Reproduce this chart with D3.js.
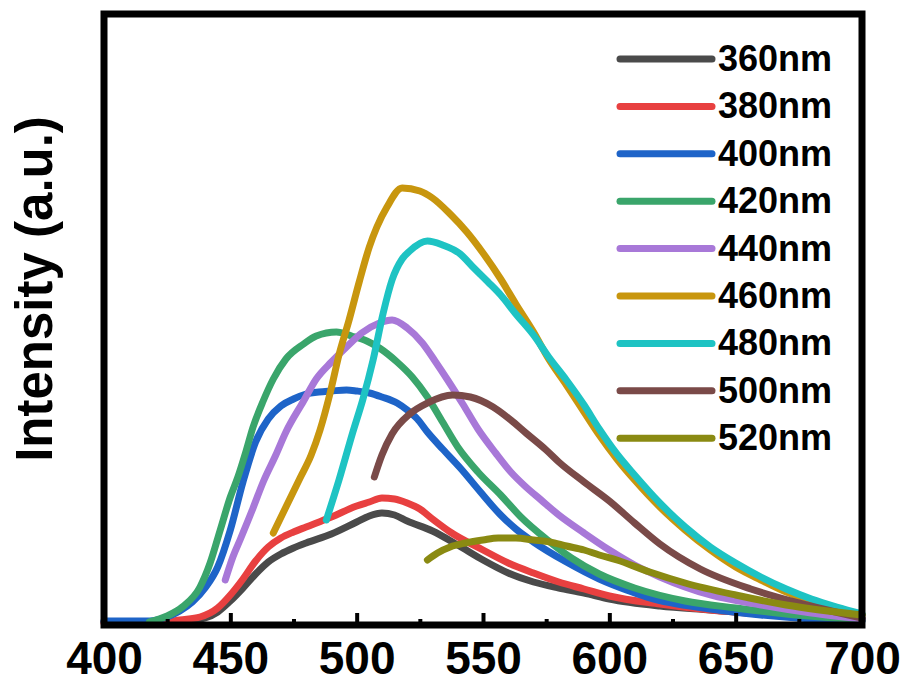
<!DOCTYPE html>
<html>
<head>
<meta charset="utf-8">
<script src="https://cdn.jsdelivr.net/npm/d3@7"></script>
<style>
  body { margin: 0; background: #fff; }
  text { font-family: "Liberation Sans", Arial, sans-serif; font-weight: bold; }
</style>
</head>
<body>
<div id="chart"></div>
<script>
// excitation wavelengths + colours
const seriesNames = ["360nm", "380nm", "400nm", "420nm", "440nm", "460nm", "480nm", "500nm", "520nm"];
const seriesColors = ["#4a4a4a", "#e84040", "#1e64c8", "#3aa56b", "#a878d8", "#c8960e", "#1ec3c3", "#7a4a48", "#8a8a12"];

// emission spectra: [wavelength nm, intensity a.u.]
const ex360 = [[400,3],[420,3],[430,3],[440,7],[445,13],[450,24],[455,37],[460,51],[465,63],[470,71],[475,77],[480,82],[490,91],[500,103],[505,109],[510,112],[515,110],[520,104],[530,94],[540,80],[550,65],[560,52],[570,43],[580,37],[590,32],[600,26],[620,19],[640,15],[660,11],[680,8],[700,6]];
const ex380 = [[400,2],[420,2],[425,3],[430,5],[438,8],[445,17],[450,30],[455,46],[460,64],[465,78],[470,87],[475,93],[480,98],[490,108],[500,119],[505,123],[510,127],[515,126],[520,122],[525,116],[530,106],[537,93],[550,75],[560,62],[570,52],[580,43],[590,36],[600,29],[620,21],[640,15],[660,11],[680,8],[700,5]];
const ex400 = [[400,4],[410,4],[418,4],[425,8],[430,14],[435,23],[440,37],[445,58],[450,95],[455,143],[460,183],[465,206],[470,219],[475,226],[480,231],[485,233],[490,234],[496,235],[500,234],[505,232],[510,228],[516,222],[520,215],[524,206],[528,193],[534,176],[541,157],[549,133],[557,110],[563,96],[570,83],[583,63],[596,46],[609,33],[616,27],[640,16],[660,10],[680,6],[700,4]];
const ex420 = [[418,3],[425,9],[431,18],[438,38],[442,62],[446,95],[450,128],[453,148],[456,172],[459,198],[463,224],[467,246],[472,266],[479,281],[484,289],[492,293],[498,289],[504,284],[509,277],[516,263],[522,248],[528,228],[534,203],[540,178],[548,153],[557,130],[565,108],[575,86],[585,67],[596,51],[610,37],[630,24],[650,17],[670,11],[700,5]];
const ex440 = [[448,45],[451,68],[454,86],[459,117],[463,143],[468,170],[472,193],[479,224],[484,246],[490,263],[496,278],[502,292],[509,302],[514,305],[520,297],[526,282],[531,264],[536,245],[542,221],[548,196],[555,172],[561,153],[567,138],[573,125],[580,110],[590,92],[600,75],[610,60],[620,48],[640,30],[660,20],[680,12],[700,6]];
const ex460 = [[467,92],[472,118],[477.6,147],[482,170],[485.5,195],[489.5,232],[493,270],[497,305],[501,343],[505,378],[508,398],[512,418],[518,437],[525,434],[530,427],[537,411],[543.6,393],[550,372],[557,346],[563,321],[570,293],[576,266],[583,240],[590,213],[596,190],[603,166],[610,145],[620,118],[630,95],[640,75],[650,58],[660,45],[670,33],[680,24],[690,16],[700,10]];
const ex480 = [[488,105],[493,145],[498.5,193],[502.5,226],[506.5,265],[510.5,312],[514,345],[518,366],[521,374],[528,384],[534,380],[541,371],[546,358],[552,343],[557,330],[563,311],[570,290],[576,268],[583,245],[590,220],[596,196],[603,171],[610,150],[620,122],[630,98],[640,78],[650,62],[660,48],[670,36],[680,26],[690,18],[700,11]];
const ex500 = [[507,148],[510,170],[514,191],[521,211],[528,222],[538,230],[545,228],[554,218],[561,205],[567,192],[575,175],[580,163],[590,143],[600,124],[610,102],[620,81],[636,56],[656,36],[675,22],[700,7]];
const ex520 = [[528,65],[532,72],[537,78],[543,82],[550,85],[556,87],[563,87],[570,85],[576.5,83],[583,79],[590,75],[596,70],[603,65],[616,53],[630,42],[650,30],[670,20],[700,10]];
const allSeries = [ex360, ex380, ex400, ex420, ex440, ex460, ex480, ex500, ex520];

const majorTicks = [400, 450, 500, 550, 600, 650, 700];
const minorTicks = [425, 475, 525, 575, 625, 675];

const width = 909, height = 687;
const margin = { top: 14, right: 47, bottom: 62, left: 104 };

const svg = d3.select("#chart")
              .append("svg")
              .attr("width", width)
              .attr("height", height);

const x = d3.scaleLinear()
            .domain([400, 700])
            .range([margin.left, width - margin.right]);

const y = d3.scaleLinear()
            .domain([0, 611])
            .range([height - margin.bottom, margin.top]);

const line = d3.line()
               .x(d => x(d[0]))
               .y(d => y(d[1]))
               .curve(d3.curveMonotoneX);

svg.append("g")
   .selectAll("path")
   .data(allSeries)
   .enter()
   .append("path")
   .attr("d", line)
   .attr("fill", "none")
   .attr("stroke", (_, i) => seriesColors[i])
   .attr("stroke-width", 7)
   .attr("stroke-linejoin", "round")
   .attr("stroke-linecap", "round");

// inward ticks on bottom axis
const xAxis = svg.append("g")
   .attr("transform", `translate(0,${height - margin.bottom})`)
   .call(d3.axisBottom(x).tickValues(majorTicks).tickSize(-12).tickPadding(16).tickFormat(d3.format("d")));
xAxis.select(".domain").remove();
xAxis.selectAll("line").attr("stroke", "#000").attr("stroke-width", 4);
xAxis.selectAll("text")
     .attr("fill", "#000")
     .style("font-size", "46px")
     .style("font-family", "'Liberation Sans', Arial, sans-serif")
     .style("font-weight", "bold");

const xMinor = svg.append("g")
   .attr("transform", `translate(0,${height - margin.bottom})`)
   .call(d3.axisBottom(x).tickValues(minorTicks).tickSize(-6).tickFormat(""));
xMinor.select(".domain").remove();
xMinor.selectAll("line").attr("stroke", "#000").attr("stroke-width", 4);

// frame
svg.append("rect")
   .attr("x", margin.left)
   .attr("y", margin.top)
   .attr("width", width - margin.left - margin.right)
   .attr("height", height - margin.top - margin.bottom)
   .attr("fill", "none")
   .attr("stroke", "#000")
   .attr("stroke-width", 7);

svg.append("text")
   .attr("transform", "translate(52,289) rotate(-90)")
   .attr("text-anchor", "middle")
   .style("font-size", "51px")
   .text("Intensity (a.u.)");

// legend
const legend = svg.append("g");
const rowY = i => 59 + i * 47.4;
legend.selectAll("line")
      .data(seriesNames)
      .enter()
      .append("line")
      .attr("x1", 620).attr("x2", 712)
      .attr("y1", (_, i) => rowY(i)).attr("y2", (_, i) => rowY(i))
      .attr("stroke", (_, i) => seriesColors[i])
      .attr("stroke-width", 7)
      .attr("stroke-linecap", "round");
legend.selectAll("text")
      .data(seriesNames)
      .enter()
      .append("text")
      .attr("x", 718)
      .attr("y", (_, i) => rowY(i) + 12)
      .style("font-size", "36px")
      .text(d => d);
</script>
</body>
</html>
